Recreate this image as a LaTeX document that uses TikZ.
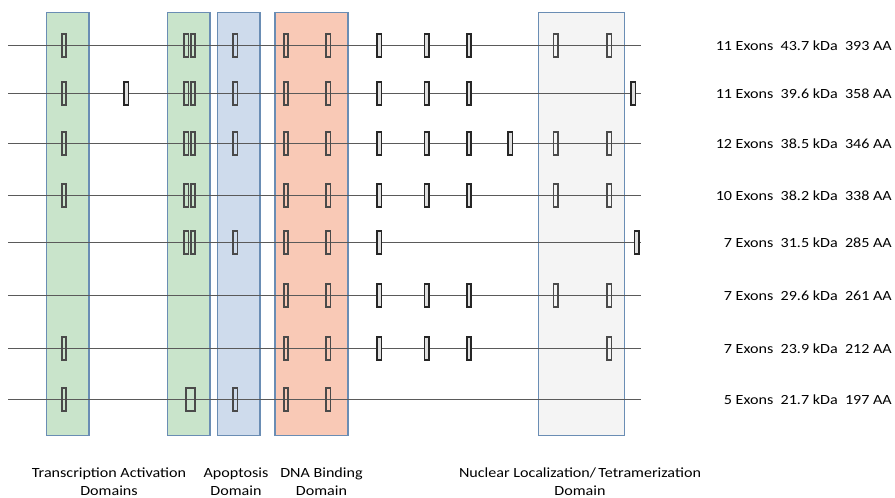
\documentclass[tikz,border=0pt]{standalone}
\usepackage{fontspec}
\setmainfont{Carlito}[FakeStretch=1.15]
\definecolor{tadgreen}{HTML}{C9E4CB}
\definecolor{apoblue}{HTML}{CEDBEC}
\definecolor{dnaorange}{HTML}{F9C9B6}
\definecolor{nlsgray}{HTML}{F4F4F4}
\definecolor{frameblue}{HTML}{6A8DB4}
\definecolor{genegray}{HTML}{5A5A5A}
\definecolor{exonedge}{HTML}{262626}
\definecolor{exonedgein}{HTML}{4A4A4A}
\begin{document}
\begin{tikzpicture}[x=1pt,y=-1pt,
  domainbox/.style={draw=frameblue, line width=1.2pt, rectangle, inner sep=0pt,
    anchor=north west, minimum height=423.3pt},
  gene/.style={draw=genegray, line width=1.2pt},
  exon/.style={rectangle, inner sep=0pt, minimum width=4.4pt, minimum height=23.5pt,
    line width=1.6pt, draw=exonedge, fill=black!12},
  exonin/.style={exon, draw=exonedgein, fill=none},
  wideexon/.style={exonin, minimum width=9pt},
  info/.style={anchor=east, inner sep=0pt, font=\fontsize{14}{17}\selectfont},
  domlabel/.style={align=center, inner sep=0pt, font=\fontsize{14}{18}\selectfont}]

\useasboundingbox (0,0) rectangle (895,498);

% protein domain bands
\node[domainbox, fill=tadgreen,  minimum width=42.6pt] (tad1) at (45.7,11.7) {};
\node[domainbox, fill=tadgreen,  minimum width=42.6pt] (tad2) at (166.7,11.7) {};
\node[domainbox, fill=apoblue,   minimum width=42.6pt] (apo)  at (216.7,11.7) {};
\node[domainbox, fill=dnaorange, minimum width=73pt]   (dbd)  at (274.3,11.7) {};
\node[domainbox, fill=nlsgray,   minimum width=86pt]   (nls)  at (537.7,11.7) {};

% one transcript per row: y, exons inside bands, exons outside bands, label
\foreach \r/\y/\inb/\outb/\txt in {
  1/45.5/{64,186.2,193,235.3,286,328.3,555.7,609.3}/{379.3,426.7,469}/{11 Exons~~43.7 kDa~~393 AA},
  2/93.5/{64,186.2,193,235.3,286,328.3}/{126.3,379.3,426.7,469,633.3}/{11 Exons~~39.6 kDa~~358 AA},
  3/143.5/{64,186.2,193,235.3,286,328.3,555.7,609.3}/{379.3,426.7,469,510.3}/{12 Exons~~38.5 kDa~~346 AA},
  4/195.5/{64,186.2,193,286,328.3,555.7,609.3}/{379.3,426.7,469}/{10 Exons~~38.2 kDa~~338 AA},
  5/242.5/{186.2,193,235.3,286,328.3}/{379.3,636.7}/{7 Exons~~31.5 kDa~~285 AA},
  6/295.5/{286,328.3,555.7,609.3}/{379.3,426.7,469}/{7 Exons~~29.6 kDa~~261 AA},
  7/348.5/{64,286,328.3,609.3}/{379.3,426.7,469}/{7 Exons~~23.9 kDa~~212 AA},
  8/399.5/{64,235.3,286,328.3}/{}/{5 Exons~~21.7 kDa~~197 AA}} {
  \coordinate (s\r) at (8.3,\y);
  \coordinate (t\r) at (641,\y);
  \draw[gene] (s\r) -- (t\r);
  \foreach \x [count=\i] in \inb { \node[exonin] (in\r-\i) at (\x,\y) {}; }
  \foreach \x [count=\i] in \outb { \node[exon] (out\r-\i) at (\x,\y) {}; }
  \node[info] (info\r) at (892,\y) {\txt};
}
\node[wideexon] (wide8) at (190.5,399.5) {};

% domain names
\node[domlabel] (ltad) at (109,482) {Transcription Activation\\Domains};
\node[domlabel] (lapo) at (236,482) {Apoptosis\\Domain};
\node[domlabel] (ldbd) at (321.5,482) {DNA Binding\\Domain};
\node[domlabel] (lnls) at (580,482) {Nuclear Localization/\,Tetramerization\\Domain};
\end{tikzpicture}
\end{document}
